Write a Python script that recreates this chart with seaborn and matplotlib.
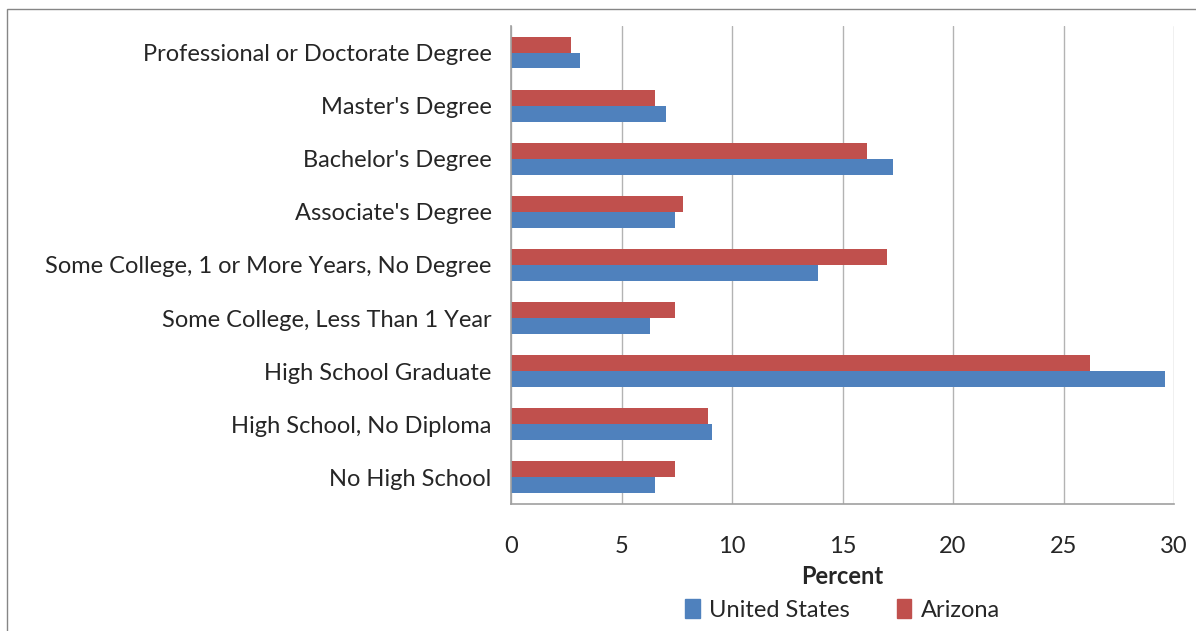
import seaborn as sns
import pandas as pd
import matplotlib.pyplot as plt
from matplotlib.patches import Rectangle, Patch

# education levels, top to bottom
levels = ["Professional or Doctorate Degree", "Master's Degree", "Bachelor's Degree",
          "Associate's Degree", "Some College, 1 or More Years, No Degree",
          "Some College, Less Than 1 Year", "High School Graduate",
          "High School, No Diploma", "No High School"]
us_pct = [3.1, 7.0, 17.3, 7.4, 13.9, 6.3, 29.6, 9.1, 6.5]
az_pct = [2.7, 6.5, 16.1, 7.8, 17.0, 7.4, 26.2, 8.9, 7.4]

df = pd.DataFrame({
    "level": levels * 2,
    "pct": az_pct + us_pct,
    "area": ["Arizona"] * len(levels) + ["United States"] * len(levels),
})

sns.set_style("white")
plt.rcParams["font.family"] = ["Lato", "DejaVu Sans"]
fs = 17

fig = plt.figure(figsize=(11.96, 6.31), dpi=100)
ax = fig.add_axes([0.4273, 0.2013, 0.5543, 0.7575])

pal = {"United States": "#4F81BD", "Arizona": "#C0504D"}
sns.barplot(data=df, y="level", x="pct", hue="area", order=levels,
            hue_order=["Arizona", "United States"], palette=pal,
            width=0.6, saturation=1, legend=False, linewidth=0, ax=ax)

ax.set_xlim(0, 30)
ax.set_ylim(len(levels) - 0.5, -0.5)
ax.set_xticks(range(0, 31, 5))
ax.set_ylabel("")
ax.set_xlabel("Percent", fontsize=fs, fontweight="bold", labelpad=6)
ax.xaxis.grid(True, color="#B3B3B3", lw=1)
ax.set_axisbelow(True)

for s in ["top", "right"]:
    ax.spines[s].set_visible(False)
for s in ["left", "bottom"]:
    ax.spines[s].set_color("#A0A0A0")
    ax.spines[s].set_linewidth(1.2)

ax.tick_params(axis="y", which="major", length=0, pad=14, labelsize=fs)
ax.set_yticks([i + 0.5 for i in range(-1, len(levels))], minor=True)
ax.tick_params(axis="y", which="minor", length=5, color="#8C8C8C", direction="out")
ax.tick_params(axis="x", length=6, color="#A0A0A0", direction="out", pad=17, labelsize=fs)

handles = [Patch(color=pal["United States"]), Patch(color=pal["Arizona"])]
ax.legend(handles, ["United States", "Arizona"], loc="center", bbox_to_anchor=(0.5, -0.222),
          ncol=2, frameon=False, fontsize=fs, handlelength=0.6, handleheight=0.8,
          handletextpad=0.4, columnspacing=2.0)

fig.patches.append(Rectangle((0.00585, -0.01), 1.0, 0.9957, transform=fig.transFigure,
                             fill=False, edgecolor="#868686", lw=1))

fig.savefig("out.png", dpi=100)
